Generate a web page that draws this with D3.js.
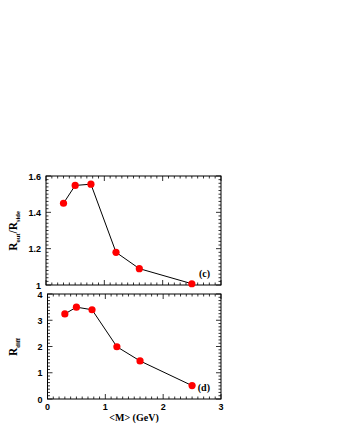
<!DOCTYPE html>
<html>
<head>
<meta charset="utf-8">
<script src="https://cdn.jsdelivr.net/npm/d3@7"></script>
<style>
  body { margin: 0; background: #fff; }
  .tick-lab { font-family: "Liberation Sans", Arial, sans-serif; font-weight: bold; font-size: 9px; }
  .ttl { font-family: "Liberation Serif", "Times New Roman", serif; font-weight: bold; }
</style>
</head>
<body>
<svg id="chart" width="340" height="440"></svg>
<script>
// data
const mass = [0.3, 0.5, 0.77, 1.2, 1.6, 2.5]
const ratioOutSide = [1.45, 1.548, 1.555, 1.18, 1.09, 1.007]
const rDiff = [3.24, 3.5, 3.4, 1.99, 1.45, 0.51]
const xTicks = [0, 1, 2, 3]
const topTicks = [1, 1.2, 1.4, 1.6]
const botTicks = [0, 1, 2, 3, 4]

const svg = d3.select("#chart")

function panel(opt) {
    const x = d3.scaleLinear().domain([0, 3]).range([opt.left, opt.right])
    const y = d3.scaleLinear().domain(opt.ydom).range([opt.bottom, opt.top])
    const g = svg.append("g")

    // frame
    g.append("rect")
        .attr("x", opt.left).attr("y", opt.top)
        .attr("width", opt.right - opt.left).attr("height", opt.bottom - opt.top)
        .attr("fill", "none").attr("stroke", "#000").attr("stroke-width", 1)

    // x ticks (inward, bottom and top)
    const xminor = d3.range(0, 3.0001, 0.1)
    xminor.forEach(function (v) {
        const isMajor = Math.abs(v - Math.round(v)) < 1e-6
        const len = isMajor ? 5 : 2.5
        g.append("line").attr("x1", x(v)).attr("x2", x(v))
            .attr("y1", opt.bottom).attr("y2", opt.bottom - len)
            .attr("stroke", "#000").attr("stroke-width", 0.8)
        g.append("line").attr("x1", x(v)).attr("x2", x(v))
            .attr("y1", opt.top).attr("y2", opt.top + len)
            .attr("stroke", "#000").attr("stroke-width", 0.8)
    })

    // y ticks (inward, left and right)
    const yminor = d3.range(opt.ydom[0], opt.ydom[1] + 1e-6, opt.minor)
    yminor.forEach(function (v) {
        const isMajor = opt.yticks.some(function (t) { return Math.abs(t - v) < 1e-6 })
        const len = isMajor ? 5 : 2.5
        g.append("line").attr("x1", opt.left).attr("x2", opt.left + len)
            .attr("y1", y(v)).attr("y2", y(v))
            .attr("stroke", "#000").attr("stroke-width", 0.8)
        g.append("line").attr("x1", opt.right).attr("x2", opt.right - len)
            .attr("y1", y(v)).attr("y2", y(v))
            .attr("stroke", "#000").attr("stroke-width", 0.8)
    })

    // y tick labels
    g.selectAll(".ylab").data(opt.yticks).join("text")
        .attr("class", "tick-lab")
        .attr("x", opt.left - 5)
        .attr("y", function (d) { return y(d) + 3.5 })
        .attr("text-anchor", "end")
        .text(function (d) { return opt.fmt(d) })

    if (opt.xlabels) {
        g.selectAll(".xlab").data(xTicks).join("text")
            .attr("class", "tick-lab")
            .attr("x", function (d) { return x(d) })
            .attr("y", opt.bottom + 11)
            .attr("text-anchor", "middle")
            .text(function (d) { return d })
    }

    // line + markers
    const pts = mass.map(function (m, i) { return [m, opt.vals[i]] })
    g.append("path")
        .attr("d", d3.line().x(function (d) { return x(d[0]) }).y(function (d) { return y(d[1]) })(pts))
        .attr("fill", "none").attr("stroke", "#000").attr("stroke-width", 1)
    g.selectAll("circle").data(pts).join("circle")
        .attr("cx", function (d) { return x(d[0]) })
        .attr("cy", function (d) { return y(d[1]) })
        .attr("r", 3.6)
        .attr("fill", "#ff0000")

    // panel letter
    g.append("text").attr("class", "ttl")
        .attr("x", opt.right - 11).attr("y", opt.bottom - 8)
        .attr("text-anchor", "end").attr("font-size", 10)
        .text(opt.letter)

    return { x: x, y: y }
}

panel({ left: 46, right: 221, top: 176, bottom: 285, ydom: [1, 1.6], minor: 0.02,
        yticks: topTicks, fmt: function (d) { return d === 1 ? "1" : d.toFixed(1) },
        vals: ratioOutSide, letter: "(c)", xlabels: false })
panel({ left: 47.5, right: 221, top: 294, bottom: 399, ydom: [0, 4], minor: 0.125,
        yticks: botTicks, fmt: function (d) { return d },
        vals: rDiff, letter: "(d)", xlabels: true })

// axis titles
const t1 = svg.append("text").attr("class", "ttl")
    .attr("transform", "translate(17,231) rotate(-90)")
    .attr("text-anchor", "middle").attr("font-size", 11.5)
t1.append("tspan").text("R")
t1.append("tspan").attr("font-size", 6.5).attr("dy", 2.5).text("out")
t1.append("tspan").attr("dy", -2.5).text("/R")
t1.append("tspan").attr("font-size", 6.5).attr("dy", 2.5).text("side")

const t2 = svg.append("text").attr("class", "ttl")
    .attr("transform", "translate(17,347) rotate(-90)")
    .attr("text-anchor", "middle").attr("font-size", 11.5)
t2.append("tspan").text("R")
t2.append("tspan").attr("font-size", 6.5).attr("dy", 2.5).text("diff")

svg.append("text").attr("class", "ttl")
    .attr("x", 134).attr("y", 421)
    .attr("text-anchor", "middle").attr("font-size", 10)
    .text("<M> (GeV)")
</script>
</body>
</html>
